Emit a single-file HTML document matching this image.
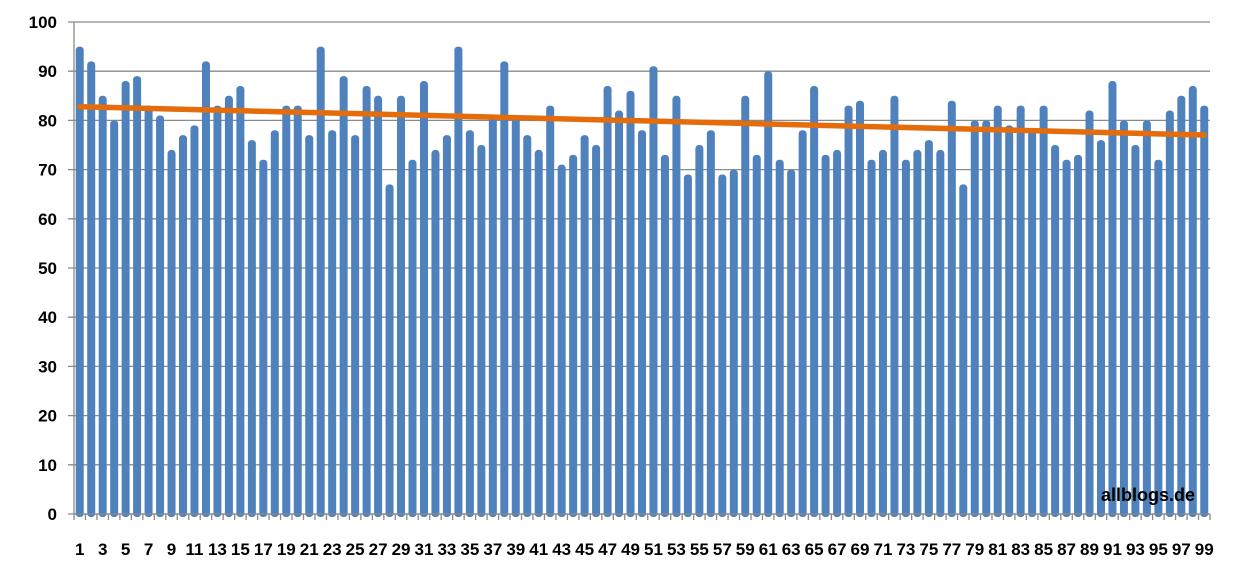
<!DOCTYPE html>
<html><head><meta charset="utf-8"><style>
html,body{margin:0;padding:0;background:#fff;}
svg{display:block;font-family:"Liberation Sans",sans-serif;}
</style></head><body>
<svg id="chart" width="1246" height="585" viewBox="0 0 1246 585" xmlns="http://www.w3.org/2000/svg">
<g id="grid"></g>
<g id="yaxis"></g>
<g id="bars"></g>
<g id="xaxis"></g>
<g id="trend"></g>
<text x="1195" y="501" text-anchor="end" font-size="18" font-weight="bold" fill="#000">allblogs.de</text>
</svg>
<script>
const values = [95,92,85,80,88,89,83,81,74,77,79,92,83,85,87,76,72,78,83,83,77,95,78,89,77,87,85,67,85,72,88,74,77,95,78,75,81,92,81,77,74,83,71,73,77,75,87,82,86,78,91,73,85,69,75,78,69,70,85,73,90,72,70,78,87,73,74,83,84,72,74,85,72,74,76,74,84,67,80,80,83,79,83,78,83,75,72,73,82,76,88,80,75,80,72,82,85,87,83];
const yTicks = [0,10,20,30,40,50,60,70,80,90,100];
const categories = values.map((v,i)=>String(i+1));

const NS="http://www.w3.org/2000/svg";
const X0=74, X1=1210, Y0=514, Y1=22, YMAX=100;
const n=values.length, step=(X1-X0)/n;
const xc=i=>X0+step*(i+0.5);
const y=v=>Y0-(v/YMAX)*(Y0-Y1);
function mk(tag,attrs,parent){const e=document.createElementNS(NS,tag);for(const k in attrs)e.setAttribute(k,attrs[k]);parent.appendChild(e);return e;}

const grid=document.getElementById('grid'), ya=document.getElementById('yaxis');
yTicks.forEach(t=>{
  const l=mk('line',{x1:68,x2:X1,y1:y(t),y2:y(t),stroke:'#8a8a8a','stroke-width':1.3},grid);
  
  
  const tx=mk('text',{x:57,y:y(t)+6,'text-anchor':'end','font-size':17,'font-weight':'bold',fill:'#000'},ya);
  tx.textContent=t;
  
  
});
const ax=mk('line',{x1:X0,x2:X0,y1:Y1,y2:Y0,stroke:'#8a8a8a','stroke-width':1.3},ya);



const bars=document.getElementById('bars');
values.forEach((v,i)=>{
  const w=8;
  const r=mk('rect',{x:xc(i)-w/2,y:y(v),width:w,height:Y0-y(v)+3,rx:3.5,fill:'#4F81BD'},bars);
  
  
});

const xa=document.getElementById('xaxis');
const bl=mk('line',{x1:X0,x2:X1,y1:Y0,y2:Y0,stroke:'#8a8a8a','stroke-width':1.3},xa);


for(let i=0;i<=n;i++){
  const tk=mk('line',{x1:X0+step*i,x2:X0+step*i,y1:Y0,y2:Y0+6,stroke:'#8a8a8a','stroke-width':1.3},xa);
  
  
}
categories.forEach((c,i)=>{
  if(i%2) return;
  const tx=mk('text',{x:xc(i),y:555,'text-anchor':'middle','font-size':17,'font-weight':'bold',fill:'#000'},xa);
  tx.textContent=c;
  
  
});

// linear trend from data
let sx=0,sy=0,sxy=0,sxx=0;
values.forEach((v,i)=>{const xx=i+1;sx+=xx;sy+=v;sxy+=xx*v;sxx+=xx*xx;});
const b=(n*sxy-sx*sy)/(n*sxx-sx*sx), a=(sy-b*sx)/n;
const tl=mk('line',{x1:xc(0),y1:y(a+b*1),x2:xc(n-1),y2:y(a+b*n),stroke:'#E46C0A','stroke-width':5.5,'stroke-linecap':'round'},document.getElementById('trend'));


</script>
</body></html>
